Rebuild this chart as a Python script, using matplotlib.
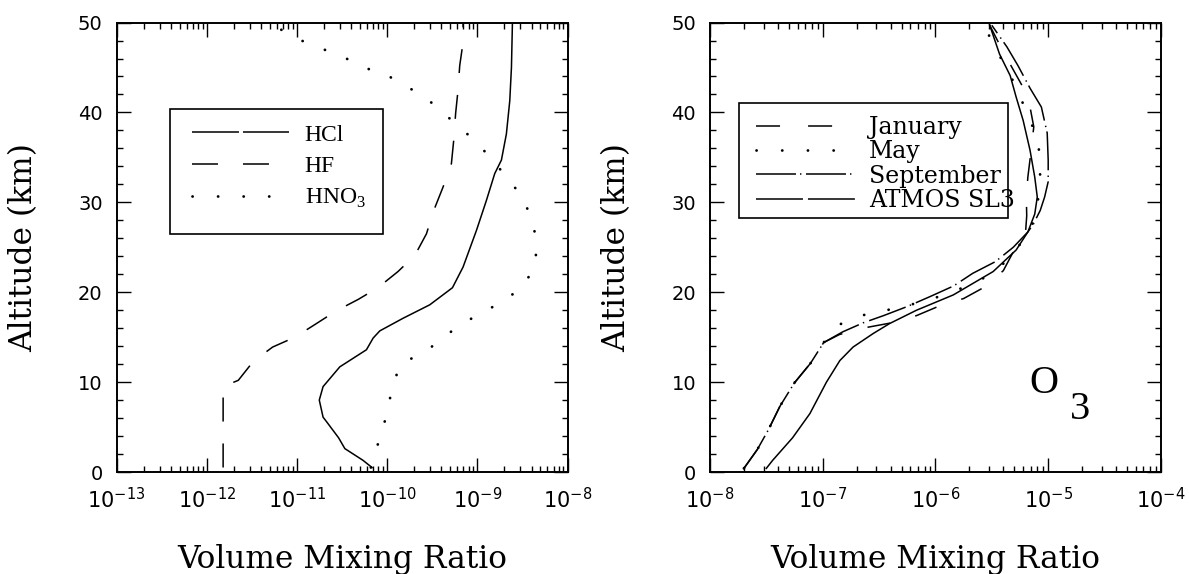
import numpy as np
import matplotlib
matplotlib.use("Agg")
import matplotlib.pyplot as plt
from matplotlib.lines import Line2D
from matplotlib.patches import Rectangle
from matplotlib.ticker import FixedLocator, FuncFormatter, MultipleLocator, NullFormatter

plt.rcParams['lines.scale_dashes'] = False
plt.rcParams['mathtext.fontset'] = 'custom'
plt.rcParams['mathtext.rm'] = 'Liberation Serif'
plt.rcParams['mathtext.sf'] = 'DejaVu Sans'

# ---- left panel: HCl, HF, HNO3 (altitude km, volume mixing ratio)
hcl_alt = [0.5, 1.3, 2.6, 3.8, 5.6, 6.1, 8.0, 9.5, 11.7, 13.6, 14.9, 15.7, 17.1, 18.6,
           20.5, 22.8, 26.9, 30.2, 33.2, 34.7, 37.6, 41.3, 45.0, 49.9]
hcl_vmr = [6.8e-11, 5.4e-11, 3.4e-11, 2.9e-11, 2.13e-11, 1.95e-11, 1.77e-11, 1.95e-11,
           2.99e-11, 5.9e-11, 7.0e-11, 8.3e-11, 1.50e-10, 2.97e-10, 5.3e-10, 6.95e-10,
           9.8e-10, 1.26e-9, 1.56e-9, 1.85e-9, 2.10e-9, 2.29e-9, 2.39e-9, 2.45e-9]

hf_alt = [0.5, 9.5, 10.2, 12.3, 13.9, 15.0, 16.4, 17.9, 19.2, 20.5, 22.3, 24.1, 26.5,
          29.1, 31.7, 34.3, 37.1, 39.9, 42.4, 45.2, 47.8, 49.9]
hf_vmr = [1.52e-12, 1.52e-12, 2.24e-12, 3.28e-12, 5.38e-12, 9.5e-12, 1.58e-11, 2.70e-11,
          4.78e-11, 7.9e-11, 1.32e-10, 2.03e-10, 2.73e-10, 3.29e-10, 4.17e-10, 5.16e-10,
          5.5e-10, 5.75e-10, 6.1e-10, 6.38e-10, 6.95e-10, 6.95e-10]

hno3_alt = [0.5, 2.1, 4.6, 7.1, 9.7, 12.1, 13.1, 14.6, 16.3, 17.6, 18.9, 20.5, 22.8, 25.5,
            28.1, 30.6, 32.7, 34.8, 36.8, 38.6, 40.4, 42.1, 43.1, 44.4, 45.0, 46.1, 47.0,
            47.9, 49.0, 49.9]
hno3_vmr = [6.6e-11, 7.3e-11, 8.9e-11, 1.02e-10, 1.16e-10, 1.42e-10, 2.38e-10, 3.86e-10,
            6.2e-10, 1.08e-9, 1.85e-9, 3.13e-9, 4.33e-9, 4.6e-9, 4.02e-9, 3.16e-9, 2.15e-9,
            1.45e-9, 9.5e-10, 6.0e-10, 3.7e-10, 2.39e-10, 1.41e-10, 9.4e-11, 5.3e-11,
            3.4e-11, 2.0e-11, 1.18e-11, 7.3e-12, 5.0e-12]

# ---- right panel: O3
jan_alt = [0.4, 2.5, 4.7, 7.3, 9.9, 12.1, 14.4, 15.3, 16.1, 16.6, 17.4, 18.4, 19.3, 20.6,
           22.4, 24.7, 26.7, 28.5, 30.5, 32.8, 35.4, 38.4, 40.6, 43.1, 45.8, 48.0, 49.8]
jan_vmr = [2.0e-8, 2.63e-8, 3.3e-8, 4.17e-8, 5.6e-8, 7.8e-8, 1.02e-7, 1.41e-7, 2.5e-7,
           4.1e-7, 6.8e-7, 1.05e-6, 1.78e-6, 2.75e-6, 4.0e-6, 5.0e-6, 6.3e-6, 6.45e-6,
           6.4e-6, 6.6e-6, 7.0e-6, 7.45e-6, 6.9e-6, 5.8e-6, 4.4e-6, 3.55e-6, 3.0e-6]

may_alt = [0.4, 2.5, 4.7, 7.3, 9.9, 12.1, 14.4, 15.4, 16.4, 17.3, 17.9, 18.6, 19.5, 21.0,
           22.4, 24.0, 25.5, 27.3, 29.1, 31.8, 34.5, 37.2, 39.7, 42.3, 44.7, 47.0, 49.5]
may_vmr = [2.0e-8, 2.63e-8, 3.3e-8, 4.17e-8, 5.6e-8, 7.8e-8, 1.02e-7, 1.17e-7, 1.41e-7,
           2.0e-7, 3.4e-7, 6.0e-7, 1.07e-6, 2.24e-6, 3.43e-6, 4.7e-6, 5.75e-6, 7.1e-6,
           7.9e-6, 8.4e-6, 8.55e-6, 8.0e-6, 6.6e-6, 5.4e-6, 4.4e-6, 3.43e-6, 2.75e-6]

sep_alt = [0.4, 2.5, 4.7, 7.3, 9.9, 12.1, 14.4, 15.6, 16.6, 17.4, 18.4, 19.5, 20.7, 22.1,
           23.4, 25.0, 26.7, 27.6, 29.1, 30.6, 32.3, 34.7, 37.7, 40.6, 42.7, 45.2, 47.3, 49.7]
sep_vmr = [2.0e-8, 2.63e-8, 3.3e-8, 4.17e-8, 5.6e-8, 7.8e-8, 1.02e-7, 1.51e-7, 2.29e-7,
           3.47e-7, 5.6e-7, 8.9e-7, 1.45e-6, 2.14e-6, 3.4e-6, 4.9e-6, 6.6e-6, 7.4e-6,
           8.5e-6, 9.3e-6, 1.0e-5, 1.0e-5, 9.8e-6, 8.7e-6, 6.9e-6, 5.4e-6, 4.3e-6, 3.16e-6]

atmos_alt = [0.4, 1.3, 3.8, 6.5, 8.0, 10.0, 12.4, 13.9, 15.4, 16.5, 18.0, 19.7, 22.3, 24.7,
             26.7, 28.7, 30.6, 32.8, 35.8, 39.1, 41.7, 44.1, 46.5, 49.7]
atmos_vmr = [3.16e-8, 3.6e-8, 5.4e-8, 7.7e-8, 8.9e-8, 1.08e-7, 1.42e-7, 1.86e-7, 2.8e-7,
             3.9e-7, 6.8e-7, 1.44e-6, 3.25e-6, 5.2e-6, 6.6e-6, 7.6e-6, 8.0e-6, 7.6e-6,
             6.9e-6, 6.0e-6, 5.2e-6, 4.6e-6, 3.7e-6, 3.03e-6]

LW = 1.1
TICK_FONT = 'DejaVu Sans'
LABEL_FONT = 'DejaVu Serif'


def sci_fmt(v, pos):
    return r'$\mathsf{10^{%d}}$' % int(round(np.log10(v)))


def style_axes(ax, e_lo, e_hi):
    ax.set_xscale('log')
    ax.set_xlim(10.0 ** e_lo, 10.0 ** e_hi)
    ax.set_ylim(0, 50)
    decades = [10.0 ** e for e in range(e_lo, e_hi + 1)]
    minors = [m * 10.0 ** e for e in range(e_lo, e_hi) for m in range(2, 10)]
    ax.xaxis.set_major_locator(FixedLocator(decades))
    ax.xaxis.set_minor_locator(FixedLocator(minors))
    ax.xaxis.set_major_formatter(FuncFormatter(sci_fmt))
    ax.xaxis.set_minor_formatter(NullFormatter())
    ax.yaxis.set_major_locator(MultipleLocator(10))
    ax.yaxis.set_minor_locator(MultipleLocator(2))
    ax.tick_params(which='both', direction='in', top=True, right=True, width=1.0)
    ax.tick_params(which='major', length=10)
    ax.tick_params(which='minor', length=4.5)
    ax.tick_params(axis='x', which='major', pad=11, labelsize=15)
    ax.tick_params(axis='y', which='major', pad=10, labelsize=14)
    for lab in ax.get_xticklabels() + ax.get_yticklabels():
        lab.set_family(TICK_FONT)
    for s in ax.spines.values():
        s.set_linewidth(1.4)
    ax.set_xlabel('Volume Mixing Ratio', family=LABEL_FONT, fontsize=22.5, labelpad=23)
    ax.set_ylabel('Altitude (km)', family=LABEL_FONT, fontsize=22.5, labelpad=28)


def legend_box(ax, x0, y0, x1, y1):
    ax.add_patch(Rectangle((x0, y0), x1 - x0, y1 - y0, transform=ax.transAxes,
                           fill=False, edgecolor='black', lw=1.2, zorder=5))


fig = plt.figure(figsize=(11.89, 5.74), dpi=100)
ax1 = fig.add_axes([0.098, 0.1777, 0.3793, 0.783])
ax2 = fig.add_axes([0.5971, 0.1777, 0.3793, 0.783])

# left panel
ax1.plot(hcl_vmr, hcl_alt, color='black', lw=LW)
ax1.plot(hf_vmr, hf_alt, color='black', lw=LW, dashes=(17.3, 15.8))
ax1.plot(hno3_vmr, hno3_alt, color='black', lw=2.0, dashes=(0.1, 17.2),
         dash_capstyle='round')
style_axes(ax1, -13, -8)

h_hcl = Line2D([], [], color='black', lw=LW, dashes=(33.8, 2.9))
h_hf = Line2D([], [], color='black', lw=LW, dashes=(18.7, 18.0))
h_hno3 = Line2D([], [], color='black', lw=2.0, dashes=(0.1, 18.3), dash_capstyle='round')
ax1.legend([h_hcl, h_hf, h_hno3], ['HCl', 'HF', 'HNO$_3$'],
           loc='upper left', bbox_to_anchor=(0.1667, 0.774), borderaxespad=0,
           prop={'family': 'Liberation Serif', 'size': 17}, frameon=False,
           handlelength=4.11, handletextpad=0.68, borderpad=0, labelspacing=0.42)
legend_box(ax1, 0.1186, 0.5295, 0.5909, 0.8076)

# right panel
ax2.plot(jan_vmr, jan_alt, color='black', lw=LW, dashes=(16.6, 18.7))
ax2.plot(may_vmr, may_alt, color='black', lw=2.0, dashes=(0.1, 17.9), dash_capstyle='round')
ax2.plot(sep_vmr, sep_alt, color='black', lw=LW, dashes=(28.0, 3.2, 1.0, 3.8))
ax2.plot(atmos_vmr, atmos_alt, color='black', lw=LW)
style_axes(ax2, -8, -4)

h_jan = Line2D([], [], color='black', lw=LW, dashes=(17.3, 20.2))
h_may = Line2D([], [], color='black', lw=2.0, dashes=(0.1, 18.4), dash_capstyle='round')
h_sep = Line2D([], [], color='black', lw=LW, dashes=(28.8, 2.9, 1.0, 3.3))
h_atm = Line2D([], [], color='black', lw=LW, dashes=(33.8, 3.6))
ax2.legend([h_jan, h_may, h_sep, h_atm], ['January', 'May', 'September', 'ATMOS SL3'],
           loc='upper left', bbox_to_anchor=(0.102, 0.7925), borderaxespad=0,
           prop={'family': LABEL_FONT, 'size': 17}, frameon=False,
           handlelength=4.19, handletextpad=0.59, borderpad=0, labelspacing=0.06)
legend_box(ax2, 0.0643, 0.5651, 0.6608, 0.8209)

ax2.text(0.7406, 0.198, 'O', transform=ax2.transAxes, family='Liberation Serif',
         fontsize=29, ha='center', va='center')
ax2.text(0.8215, 0.140, '3', transform=ax2.transAxes, family='Liberation Serif',
         fontsize=29, ha='center', va='center')

fig.savefig('out.png', dpi=100)
